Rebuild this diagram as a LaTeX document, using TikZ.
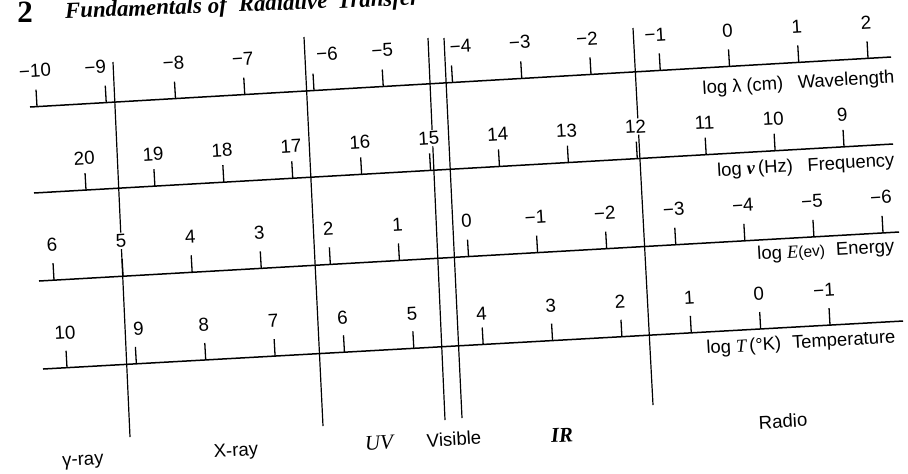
\documentclass[tikz,border=0pt]{standalone}
\usepackage{fontspec}
\setmainfont{Liberation Sans}
\newfontfamily\seriffam{Liberation Serif}
\usetikzlibrary{calc}
\begin{document}
\begin{tikzpicture}[x=0.5pt,y=-0.5pt,
  axisline/.style={line width=0.75pt},
  bound/.style={line width=0.6pt},
  tickmark/.style={line width=0.65pt},
  num/.style={font=\fontsize{9.4}{11}\selectfont, rotate=3.3, fill=white, inner sep=0.8pt},
  lab/.style={font=\fontsize{9.2}{11}\selectfont, rotate=3.3, anchor=base east, inner sep=0pt},
  region/.style={font=\fontsize{9.3}{11}\selectfont, rotate=3.3}]
\useasboundingbox (0,0) rectangle (908,473);
\clip (0,0) rectangle (908,473);

% heading (cut off by the page top, as in the scan)
\node[anchor=base, inner sep=0pt, font=\seriffam\bfseries\fontsize{15.5}{18}\selectfont] (chap) at (25,22) {2};
\node[anchor=base west, inner sep=0pt, rotate=2.2, font=\seriffam\bfseries\itshape\fontsize{11.4}{14}\selectfont] (title) at (65,18.5) {Fundamentals\hspace{3pt}of\hspace{6pt}Radiative\hspace{5pt}Transfer};

% boundary lines
\coordinate (A1) at (113,62);  \coordinate (A2) at (130,437);
\coordinate (B1) at (304,37);  \coordinate (B2) at (323,426);
\coordinate (C1) at (428,38);  \coordinate (C2) at (445,420);
\coordinate (D1) at (444,38);  \coordinate (D2) at (462,418);
\coordinate (E1) at (633,28);  \coordinate (E2) at (653,405);
\draw[bound] (A1) -- (A2);
\draw[bound] (B1) -- (B2);
\draw[bound] (C1) -- (C2);
\draw[bound] (D1) -- (D2);
\draw[bound] (E1) -- (E2);

% axis 1: wavelength
\coordinate (L1) at (30,107); \coordinate (R1) at (891,57);
\coordinate (F1) at (37,106.6); \coordinate (G1) at (868,58.3);
\draw[axisline] (L1) -- (R1);
\foreach \t/\i/\dx in {−10/0/0,−9/1/-9,−8/2/0,−7/3/0,−6/4/15,−5/5/1,−4/6/10,−3/7/0,−2/8/-2,−1/9/-3,0/10/0,1/11/0,2/12/0}{
  \coordinate (p) at ($(F1)!\i/12!(G1)$);
  \draw[tickmark] (p) -- ($(p)!8.5pt!90:(R1)$);
  \node[num, xshift={\dx*0.5pt}] (wl\i) at ($(p)!18pt!90:(R1)$) {\t};
}
\node[lab] (wllab) at (895,83) {log λ (cm)\hspace{0.8em}Wavelength};

% axis 2: frequency
\coordinate (L2) at (34,193); \coordinate (R2) at (893,144);
\coordinate (F2) at (86,190); \coordinate (G2) at (844,146.8);
\draw[axisline] (L2) -- (R2);
\foreach \t/\i in {20/0,19/1,18/2,17/3,16/4,15/5,14/6,13/7,12/8,11/9,10/10,9/11}{
  \coordinate (p) at ($(F2)!\i/11!(G2)$);
  \draw[tickmark] (p) -- ($(p)!8.5pt!90:(R2)$);
  \node[num] (fr\i) at ($(p)!16pt!90:(R2)$) {\t};
}
\node[lab] (frlab) at (895,166) {log {\seriffam\bfseries\itshape ν}\,(Hz)\hspace{0.8em}Frequency};

% axis 3: energy
\coordinate (L3) at (39,281); \coordinate (R3) at (899,232);
\coordinate (F3) at (54,280.1); \coordinate (G3) at (883,232.9);
\draw[axisline] (L3) -- (R3);
\foreach \t/\i in {6/0,5/1,4/2,3/3,2/4,1/5,0/6,−1/7,−2/8,−3/9,−4/10,−5/11,−6/12}{
  \coordinate (p) at ($(F3)!\i/12!(G3)$);
  \draw[tickmark] (p) -- ($(p)!8.5pt!90:(R3)$);
  \node[num] (en\i) at ($(p)!17.75pt!90:(R3)$) {\t};
}
\node[lab] (enlab) at (895,252) {log {\seriffam\itshape E}{\fontsize{7.8}{9}\selectfont(ev)}\hspace{0.6em}Energy};

% axis 4: temperature
\coordinate (L4) at (43,369); \coordinate (R4) at (903,321);
\coordinate (F4) at (67,367.7); \coordinate (G4) at (830,325.1);
\draw[axisline] (L4) -- (R4);
\foreach \t/\i/\dx/\dy in {10/0/0/0,9/1/4/0,8/2/0/0,7/3/0/0,6/4/0/0,5/5/0/0,4/6/0/-4,3/7/0/0,2/8/0/0,1/9/0/0,0/10/0/0,−1/11/-4/0}{
  \coordinate (p) at ($(F4)!\i/11!(G4)$);
  \draw[tickmark] (p) -- ($(p)!8.5pt!90:(R4)$);
  \node[num, xshift={\dx*0.5pt}, yshift={\dy*0.5pt}] (te\i) at ($(p)!17.5pt!90:(R4)$) {\t};
}
\node[lab] (telab) at (896,343) {log {\seriffam\itshape T}\,(°K)\hspace{0.6em}Temperature};

% region names
\node[region] (gam) at (83,462) {γ-ray};
\node[region] (xr) at (236,452) {X-ray};
\node[region, font=\seriffam\itshape\fontsize{10.5}{12}\selectfont] (uv) at (379,443) {UV};
\node[region] (vis) at (454,439) {Visible};
\node[region, font=\seriffam\bfseries\itshape\fontsize{10.5}{12}\selectfont] (ir) at (562,435) {IR};
\node[region] (rad) at (783,421) {Radio};
\end{tikzpicture}
\end{document}
